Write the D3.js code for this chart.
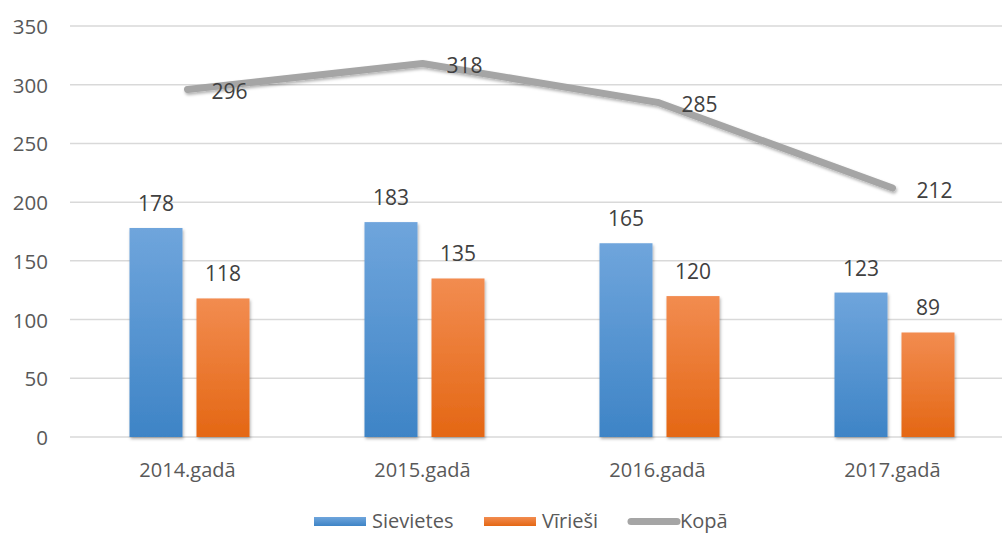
<!DOCTYPE html>
<html>
<head>
<meta charset="utf-8">
<script src="https://cdn.jsdelivr.net/npm/d3@7"></script>
<style>
  body { margin: 0; background: #fff; }
  text { font-family: "Open Sans", sans-serif; }
</style>
</head>
<body>
<div id="chart"></div>
<script>
const w = 1002;
const h = 533;

const years = ["2014.gadā", "2015.gadā", "2016.gadā", "2017.gadā"];
const sievietes = [178, 183, 165, 123];
const virieši = [118, 135, 120, 89];
const kopa = [296, 318, 285, 212];
const yTicks = [0, 50, 100, 150, 200, 250, 300, 350];
const seriesNames = ["Sievietes", "Vīrieši", "Kopā"];

const svg = d3.select("#chart").append("svg").attr("width", w).attr("height", h);

const defs = svg.append("defs");
function grad(id, top, bottom) {
    const g = defs.append("linearGradient").attr("id", id)
        .attr("x1", 0).attr("y1", 0).attr("x2", 0).attr("y2", 1);
    g.append("stop").attr("offset", "0%").attr("stop-color", top);
    g.append("stop").attr("offset", "100%").attr("stop-color", bottom);
}
grad("gBlue", "#6fa5dc", "#3e84c6");
grad("gOrange", "#f28c50", "#e46714");
const shadow = defs.append("filter").attr("id", "shadow")
    .attr("x", "-20%").attr("y", "-20%").attr("width", "140%").attr("height", "140%");
shadow.append("feDropShadow").attr("dx", 1).attr("dy", 2).attr("stdDeviation", 1.8)
    .attr("flood-color", "#000").attr("flood-opacity", 0.3);

const x = d3.scaleBand().domain(years).range([72, 1012]);
const y = d3.scaleLinear().domain([0, 350]).range([437, 26]);
const cx = d => x(d) + x.bandwidth() / 2;

//grid
svg.append("g").selectAll("line").data(yTicks).enter().append("line")
    .attr("x1", 70).attr("x2", w)
    .attr("y1", d => y(d)).attr("y2", d => y(d))
    .style("stroke", "#d9d9d9").style("stroke-width", 1.5);

//y axis labels
svg.append("g").selectAll("text").data(yTicks).enter().append("text")
    .attr("x", 48).attr("y", d => y(d) + 8)
    .attr("text-anchor", "end")
    .style("font-size", "20.5px").style("fill", "#595959")
    .text(d => d);

//x labels
svg.append("g").selectAll("text").data(years).enter().append("text")
    .attr("x", d => cx(d) - 2).attr("y", 477)
    .attr("text-anchor", "middle")
    .style("font-size", "20px").style("fill", "#595959")
    .text(d => d);

const barW = 53;
const gap = 14;
const groups = [
    {vals: sievietes, fill: "url(#gBlue)", off: -(barW + gap / 2)},
    {vals: virieši, fill: "url(#gOrange)", off: gap / 2}
];

groups.forEach(s => {
    svg.append("g").selectAll("rect").data(s.vals).enter().append("rect")
        .attr("x", (d, i) => cx(years[i]) + s.off)
        .attr("y", d => y(d))
        .attr("width", barW)
        .attr("height", d => y(0) - y(d))
        .style("fill", s.fill)
        .attr("filter", "url(#shadow)");
    svg.append("g").selectAll("text").data(s.vals).enter().append("text")
        .attr("x", (d, i) => cx(years[i]) + s.off + barW / 2)
        .attr("y", d => y(d) - 17)
        .attr("text-anchor", "middle")
        .style("font-size", "21px").style("fill", "#404040")
        .text(d => d);
});

//total line
const line = d3.line()
    .x((d, i) => cx(years[i]) - 2)
    .y(d => y(d));
svg.append("path").datum(kopa)
    .attr("d", line)
    .style("fill", "none")
    .style("stroke", "#a5a5a5")
    .style("stroke-width", 7)
    .style("stroke-linecap", "round")
    .style("stroke-linejoin", "round")
    .attr("filter", "url(#shadow)");
svg.append("g").selectAll("text").data(kopa).enter().append("text")
    .attr("x", (d, i) => cx(years[i]) + 22)
    .attr("y", d => y(d) + 9.5)
    .style("font-size", "21px").style("fill", "#404040")
    .text(d => d);

//legend
const legend = svg.append("g");
const legX = [314, 484, 628];
legend.append("rect").attr("x", legX[0]).attr("y", 517).attr("width", 52).attr("height", 9)
    .style("fill", "url(#gBlue)");
legend.append("rect").attr("x", legX[1]).attr("y", 517).attr("width", 52).attr("height", 9)
    .style("fill", "url(#gOrange)");
legend.append("line").attr("x1", legX[2] + 3).attr("x2", legX[2] + 49)
    .attr("y1", 521.5).attr("y2", 521.5)
    .style("stroke", "#a5a5a5").style("stroke-width", 7).style("stroke-linecap", "round");
legend.selectAll("text").data(seriesNames).enter().append("text")
    .attr("x", (d, i) => legX[i] + (i === 2 ? 52 : 58))
    .attr("y", 528)
    .style("font-size", "20px").style("fill", "#595959")
    .text(d => d);
</script>
</body>
</html>
